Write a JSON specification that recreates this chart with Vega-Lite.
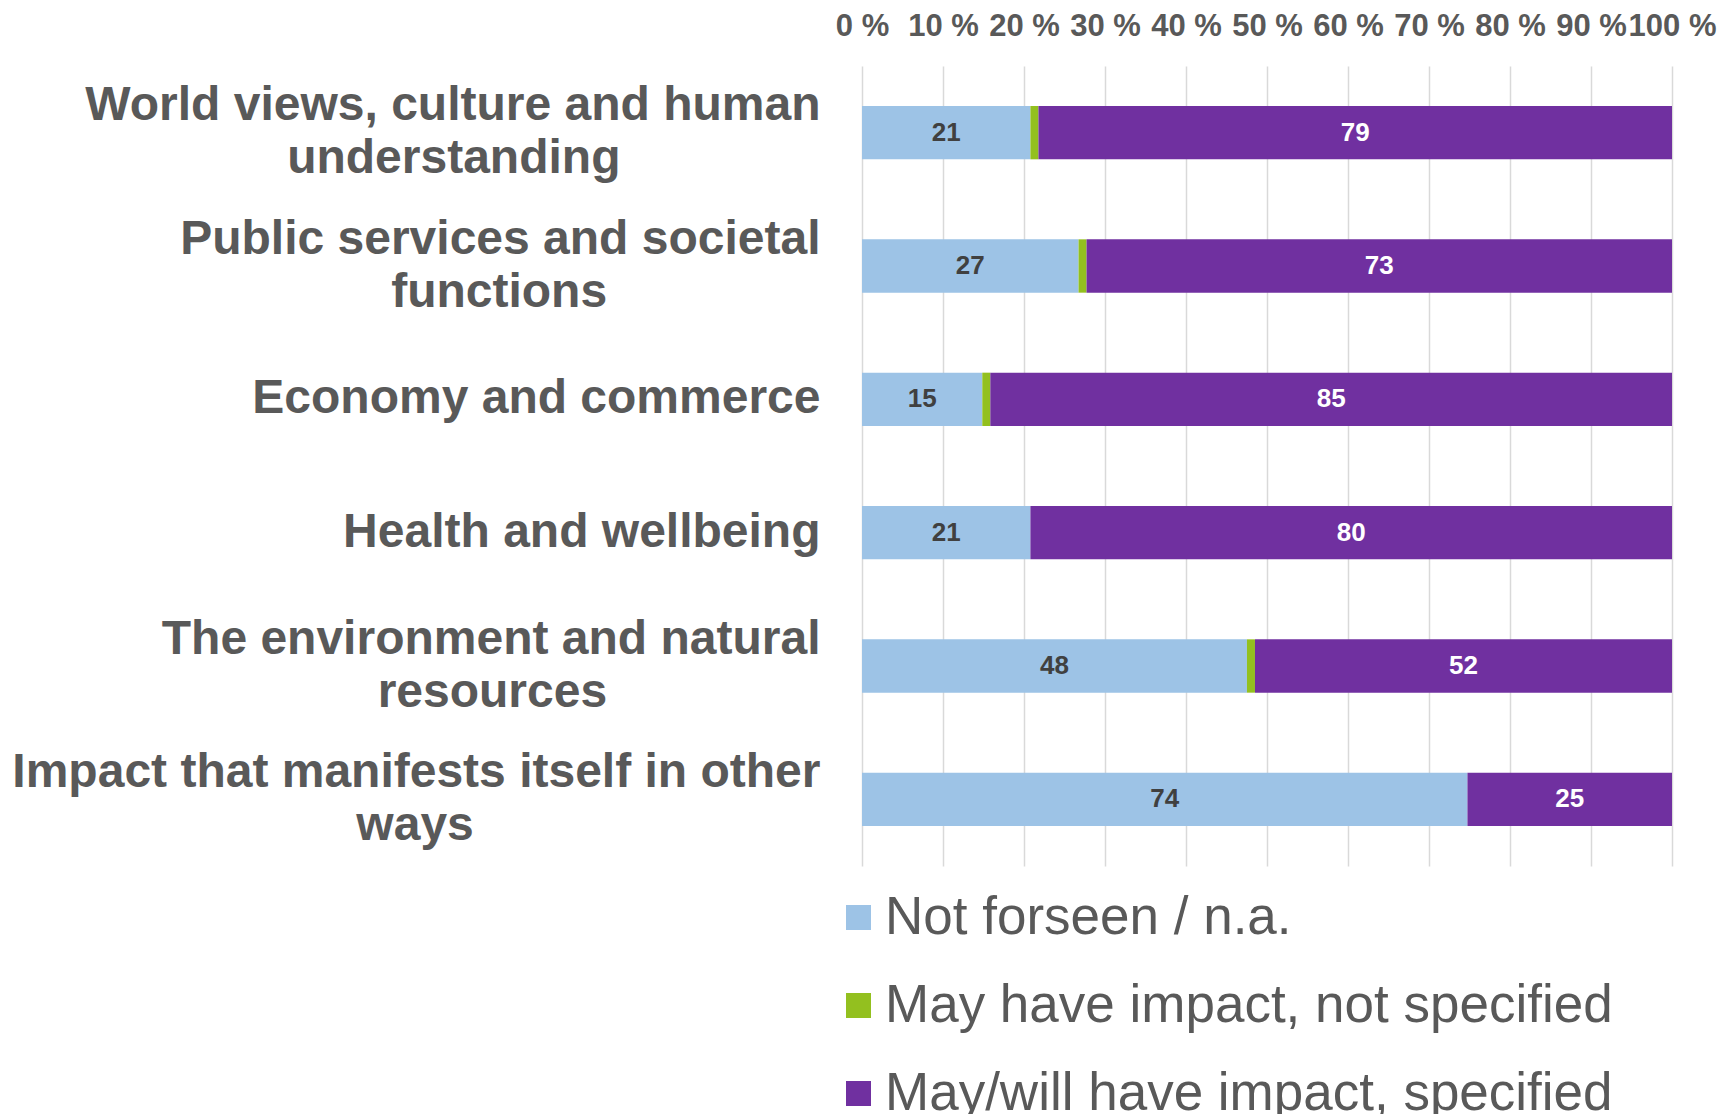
{
  "$schema": "https://vega.github.io/schema/vega-lite/v6.json",
  "width": 810,
  "height": 800,
  "autosize": {"type": "none"},
  "padding": {"left": 862, "top": 66, "right": 46, "bottom": 248},
  "background": "white",
  "config": {"view": {"stroke": null}},
  "data": {
    "values": [
      {"category": "World views, culture and human understanding", "segment": "Not forseen / n.a.", "rank": 1, "value": 21},
      {"category": "World views, culture and human understanding", "segment": "May have impact, not specified", "rank": 2, "value": 1},
      {"category": "World views, culture and human understanding", "segment": "May/will have impact, specified", "rank": 3, "value": 79},
      {"category": "Public services and societal functions", "segment": "Not forseen / n.a.", "rank": 1, "value": 27},
      {"category": "Public services and societal functions", "segment": "May have impact, not specified", "rank": 2, "value": 1},
      {"category": "Public services and societal functions", "segment": "May/will have impact, specified", "rank": 3, "value": 73},
      {"category": "Economy and commerce", "segment": "Not forseen / n.a.", "rank": 1, "value": 15},
      {"category": "Economy and commerce", "segment": "May have impact, not specified", "rank": 2, "value": 1},
      {"category": "Economy and commerce", "segment": "May/will have impact, specified", "rank": 3, "value": 85},
      {"category": "Health and wellbeing", "segment": "Not forseen / n.a.", "rank": 1, "value": 21},
      {"category": "Health and wellbeing", "segment": "May/will have impact, specified", "rank": 3, "value": 80},
      {"category": "The environment and natural resources", "segment": "Not forseen / n.a.", "rank": 1, "value": 48},
      {"category": "The environment and natural resources", "segment": "May have impact, not specified", "rank": 2, "value": 1},
      {"category": "The environment and natural resources", "segment": "May/will have impact, specified", "rank": 3, "value": 52},
      {"category": "Impact that manifests itself in other ways", "segment": "Not forseen / n.a.", "rank": 1, "value": 74},
      {"category": "Impact that manifests itself in other ways", "segment": "May/will have impact, specified", "rank": 3, "value": 25}
    ]
  },
  "transform": [
    {"stack": "value", "groupby": ["category"], "sort": [{"field": "rank", "order": "ascending"}], "offset": "normalize", "as": ["x0", "x1"]},
    {"calculate": "(datum.x0 + datum.x1) / 2", "as": "xm"}
  ],
  "encoding": {
    "y": {
      "field": "category",
      "type": "nominal",
      "sort": ["World views, culture and human understanding", "Public services and societal functions", "Economy and commerce", "Health and wellbeing", "The environment and natural resources", "Impact that manifests itself in other ways"],
      "scale": {"paddingInner": 0.6, "paddingOuter": 0.3},
      "axis": {
        "title": null,
        "domain": false,
        "ticks": false,
        "grid": false,
        "labelFont": "Liberation Sans",
        "labelFontWeight": "bold",
        "labelFontSize": 48,
        "labelColor": "#595959",
        "labelPadding": 42,
        "labelLimit": 1000,
        "labelLineHeight": 53,
        "labelAlign": "right",
        "labelBaseline": "middle",
        "labelOffset": {"condition": {"test": "datum.value == 'Economy and commerce' || datum.value == 'Health and wellbeing'", "value": 0}, "value": -26.5},
        "labelExpr": "datum.value == 'World views, culture and human understanding' ? ['World views, culture and human', 'understanding\u00a0\u00a0\u00a0\u00a0\u00a0\u00a0\u00a0\u00a0\u00a0\u00a0\u00a0\u00a0\u00a0\u00a0\u00a0\u200b'] : datum.value == 'Public services and societal functions' ? ['Public services and societal', 'functions\u00a0\u00a0\u00a0\u00a0\u00a0\u00a0\u00a0\u00a0\u00a0\u00a0\u00a0\u00a0\u00a0\u00a0\u00a0\u00a0\u200b'] : datum.value == 'The environment and natural resources' ? ['The environment and natural', 'resources\u00a0\u00a0\u00a0\u00a0\u00a0\u00a0\u00a0\u00a0\u00a0\u00a0\u00a0\u00a0\u00a0\u00a0\u00a0\u00a0\u200b'] : datum.value == 'Impact that manifests itself in other ways' ? ['Impact that manifests itself in other', 'ways\u00a0\u00a0\u00a0\u00a0\u00a0\u00a0\u00a0\u00a0\u00a0\u00a0\u00a0\u00a0\u00a0\u00a0\u00a0\u00a0\u00a0\u00a0\u00a0\u00a0\u00a0\u00a0\u00a0\u00a0\u00a0\u00a0\u200b'] : datum.label"
      }
    }
  },
  "layer": [
    {
      "mark": {"type": "bar"},
      "encoding": {
        "x": {
          "field": "x0",
          "type": "quantitative",
          "scale": {"domain": [0, 1], "nice": false},
          "axis": {
            "orient": "top",
            "title": null,
            "values": [0, 0.1, 0.2, 0.3, 0.4, 0.5, 0.6, 0.7, 0.8, 0.9, 1],
            "labelExpr": "round(datum.value * 100) + ' %'",
            "domain": false,
            "ticks": false,
            "grid": true,
            "gridColor": "#d9d9d9",
            "gridWidth": 1.5,
            "labelFont": "Liberation Sans",
            "labelFontWeight": "bold",
            "labelFontSize": 31,
            "labelColor": "#595959",
            "labelPadding": 24,
            "labelFlush": false,
            "labelOverlap": false
          }
        },
        "x2": {"field": "x1"},
        "color": {
          "field": "segment",
          "type": "nominal",
          "scale": {
            "domain": ["Not forseen / n.a.", "May have impact, not specified", "May/will have impact, specified"],
            "range": ["#9DC3E6", "#93C01F", "#7030A0"]
          },
          "legend": {
            "title": null,
            "orient": "none",
            "legendX": -30,
            "legendY": 825,
            "direction": "vertical",
            "symbolType": "square",
            "symbolSize": 625,
            "symbolStrokeWidth": 0,
            "labelFont": "Liberation Sans",
            "labelFontSize": 53,
            "labelColor": "#595959",
            "labelOffset": 0,
            "labelLimit": 1000,
            "rowPadding": 34,
            "padding": 0
          }
        }
      }
    },
    {
      "transform": [{"filter": "datum.rank != 2"}],
      "mark": {"type": "text", "font": "Liberation Sans", "fontWeight": "bold", "fontSize": 26, "baseline": "middle", "align": "center"},
      "encoding": {
        "x": {"field": "xm", "type": "quantitative"},
        "text": {"field": "value", "type": "quantitative"},
        "color": {"condition": {"test": "datum.rank == 1", "value": "#404040"}, "value": "#ffffff"}
      }
    }
  ]
}
